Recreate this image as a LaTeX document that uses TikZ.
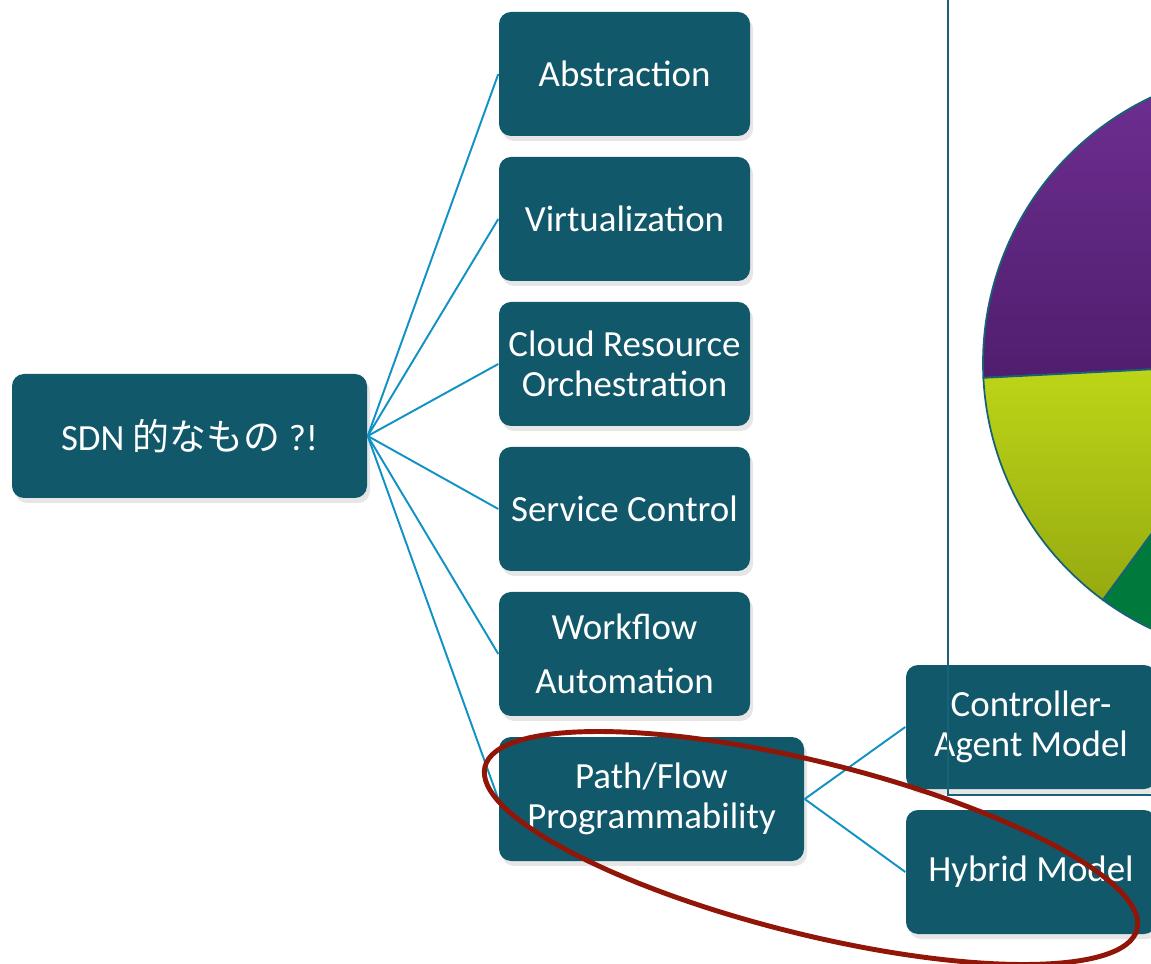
\documentclass[tikz,border=0pt]{standalone}
\usepackage{fontspec}
\setmainfont{Carlito}
\newfontfamily\jpfont{Noto Sans CJK JP}
\usetikzlibrary{positioning, shadows}

\definecolor{boxteal}{RGB}{17,88,106}
\definecolor{linkblue}{RGB}{16,146,196}
\definecolor{ringred}{RGB}{146,22,8}
\definecolor{framecol}{RGB}{24,98,120}
\definecolor{purpletop}{RGB}{112,48,148}
\definecolor{purplebot}{RGB}{80,30,110}
\definecolor{limetop}{RGB}{190,214,24}
\definecolor{limebot}{RGB}{150,170,16}
\definecolor{pinegreen}{RGB}{0,122,60}

\begin{document}
\begin{tikzpicture}[x=0.1mm, y=-0.1mm, node distance=14.5mm, on grid,
    topic/.style={rectangle, rounded corners=1.2mm, fill=boxteal, text=white,
      align=center, inner sep=0pt, minimum width=25.1mm, minimum height=12.4mm,
      font=\fontsize{10.5}{11.4}\selectfont,
      drop shadow={shadow xshift=0.3mm, shadow yshift=-0.5mm, opacity=0.2}},
    link/.style={draw=linkblue, line width=0.55pt},
    slice/.style={draw=framecol, line width=0.5pt}]

   \clip (0,0) rectangle (1151,964);

   % pie chart behind, cut by the page edge
   \path[slice, top color=purpletop, bottom color=purplebot]
     (1277,363) -- ++(177.1:294) arc[start angle=177.1, end angle=290, radius=294] -- cycle;
   \path[slice, top color=limetop, bottom color=limebot]
     (1277,363) -- ++(126.3:294) arc[start angle=126.3, end angle=177.1, radius=294] -- cycle;
   \path[slice, fill=pinegreen]
     (1277,363) -- ++(70:294) arc[start angle=70, end angle=126.3, radius=294] -- cycle;

   \node[topic, minimum width=35.5mm] (sdn) at (189.5,436) {SDN {\jpfont 的なもの} ?!};

   \node[topic] (abs) at (624.5,74) {Abstraction};
   \node[topic] (virt) [below=of abs] {Virtualization};
   \node[topic] (cloud) [below=of virt] {Cloud Resource\\Orchestration};
   \node[topic] (svc) [below=of cloud] {Service Control};
   \node[topic, font=\fontsize{10.5}{15.4}\selectfont] (work) [below=of svc] {Workflow\\Automation};
   \node[topic, minimum width=30.5mm] (path) at (651.5,799) {Path/Flow\\Programmability};

   \node[topic, minimum width=25mm] (ctrl) at (1031,727) {Controller-\\Agent Model};
   \node[topic, minimum width=25mm] (hyb) [below=of ctrl] {Hybrid Model};

   \path[link]
    (sdn.east) edge (abs.west)
               edge (virt.west)
               edge (cloud.west)
               edge (svc.west)
               edge (work.west)
               edge (path.west)
    (path.east) edge (ctrl.west)
                edge (hyb.west);

   % chart frame
   \draw[framecol, line width=0.5pt] (948,-10) -- (948,795) -- (1160,795);

   % red ring round the path group
   \draw[ringred, line width=1.4pt, rotate around={-14:(811,848)}]
     (811,848) ellipse [x radius=336, y radius=86];
\end{tikzpicture}
\end{document}
